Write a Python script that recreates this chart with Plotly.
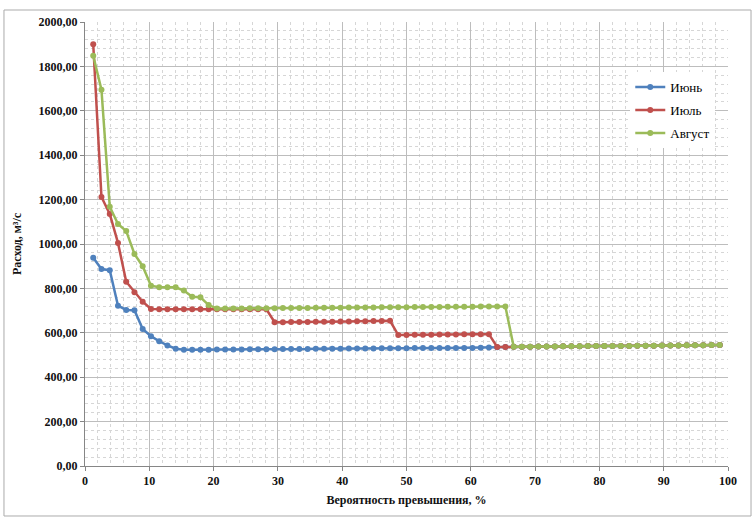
import plotly.graph_objects as go

# Exceedance probability, % (rank m / (n+1), n = 77)
prob = [1.28, 2.56, 3.85, 5.13, 6.41, 7.69, 8.97, 10.26, 11.54, 12.82,
        14.10, 15.38, 16.67, 17.95, 19.23, 20.51, 21.79, 23.08, 24.36, 25.64,
        26.92, 28.21, 29.49, 30.77, 32.05, 33.33, 34.62, 35.90, 37.18, 38.46,
        39.74, 41.03, 42.31, 43.59, 44.87, 46.15, 47.44, 48.72, 50.00, 51.28,
        52.56, 53.85, 55.13, 56.41, 57.69, 58.97, 60.26, 61.54, 62.82, 64.10,
        65.38, 66.67, 67.95, 69.23, 70.51, 71.79, 73.08, 74.36, 75.64, 76.92,
        78.21, 79.49, 80.77, 82.05, 83.33, 84.62, 85.90, 87.18, 88.46, 89.74,
        91.03, 92.31, 93.59, 94.87, 96.15, 97.44, 98.72]

june = [938, 887, 882, 722, 703, 702, 617, 585, 562, 543, 528,
        524, 524, 524, 524, 525, 525, 525, 525, 526, 526, 526, 526,
        527, 527, 527, 527, 528, 528, 528, 528, 529, 529, 529, 529,
        530, 530, 530, 530, 531, 531, 531, 531, 532, 532, 532, 532,
        533, 534, 535, 536,
        537, 537, 537, 538, 538, 538, 539, 539, 539, 540, 540, 540, 541,
        541, 541, 542, 542, 542, 543, 543, 543, 544, 544, 544, 545, 545]

july = [1900, 1212, 1135, 1005, 830, 783, 740, 707, 706, 706, 706, 706,
        706, 706, 706, 706, 706, 706, 706, 706, 706, 706,
        648, 648, 649, 649, 649, 650, 650, 650, 651, 651, 652, 652, 653, 653, 654,
        590, 590, 591, 591, 591, 592, 592, 592, 593, 593, 594, 594,
        536, 536,
        537, 537, 537, 538, 538, 538, 539, 539, 539, 540, 540, 540, 541,
        541, 541, 542, 542, 542, 543, 543, 543, 544, 544, 544, 545, 545]

august = [1848, 1695, 1168, 1090, 1058, 955, 900, 812, 805, 805, 805, 790,
          762, 760, 725, 710,
          710, 710, 710, 711, 711, 711, 711, 712, 712, 712, 712, 713, 713,
          713, 713, 714, 714, 714, 714, 715, 715, 715, 715, 716, 716, 716,
          716, 717, 717, 717, 717, 718, 718, 718, 718,
          537, 537, 537, 538, 538, 538, 539, 539, 539, 540, 540, 540, 541,
          541, 541, 542, 542, 542, 543, 543, 543, 544, 544, 544, 545, 545]

names = ["Июнь", "Июль", "Август"]
colors = ["#4F81BD", "#C0504D", "#9BBB59"]
series = [june, july, august]

fig = go.Figure()
for name, col, vals in zip(names, colors, series):
    fig.add_trace(go.Scatter(
        x=prob, y=vals, name=name, mode="lines+markers",
        line=dict(color=col, width=2.5),
        marker=dict(color=col, size=6),
        legendgroup=name,
    ))

serif = "Liberation Serif, Times New Roman, serif"
fig.update_layout(
    width=756, height=521,
    margin=dict(l=85, r=28, t=22, b=55),
    paper_bgcolor="white", plot_bgcolor="white",
    separators=",.",
    showlegend=True,
    legend=dict(x=0.848, y=0.887, xanchor="left", yanchor="top",
                bgcolor="white", font=dict(family=serif, size=13, color="#000"),
                tracegroupgap=3),
    xaxis=dict(
        range=[0, 100], dtick=10, tick0=0,
        showgrid=True, gridcolor="#BDBDBD", gridwidth=1,
        minor=dict(dtick=2, showgrid=True, gridcolor="#D6D6D6", griddash="dot",
                   ticks=""),
        ticks="outside", ticklen=4, tickcolor="#868686",
        showline=True, linecolor="#868686", zeroline=False,
        tickfont=dict(family=serif, size=12, color="#111", weight="bold"),
        title=dict(text="Вероятность превышения, %", standoff=8,
                   font=dict(family=serif, size=12, color="#111", weight="bold")),
    ),
    yaxis=dict(
        range=[0, 2000], dtick=200, tick0=0, tickformat=".2f",
        showgrid=True, gridcolor="#BDBDBD", gridwidth=1,
        minor=dict(dtick=40, showgrid=True, gridcolor="#D6D6D6", griddash="dot",
                   ticks=""),
        ticks="outside", ticklen=4, tickcolor="#868686",
        showline=True, linecolor="#868686", zeroline=False,
        tickfont=dict(family=serif, size=12, color="#111", weight="bold"),
        title=dict(text="Расход, м³/с", standoff=14,
                   font=dict(family=serif, size=12, color="#111", weight="bold")),
    ),
    shapes=[dict(type="rect", xref="paper", yref="paper",
                 x0=-0.126, x1=1.0358, y0=-0.1126, y1=1.027,
                 line=dict(color="#ABABAB", width=1), layer="below")],
)

fig.write_html("out.html",
               config={"displayModeBar": False},
               post_script="document.body.style.margin='0px';document.body.style.overflow='hidden';")
